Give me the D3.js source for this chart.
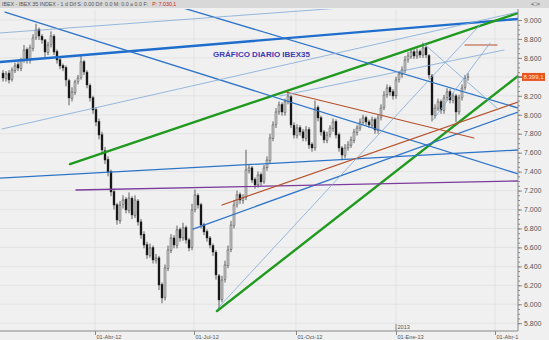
<!DOCTYPE html>
<html><head><meta charset="utf-8">
<script src="https://cdn.jsdelivr.net/npm/d3@7"></script>
<style>body{margin:0;background:#f0f0f0;}svg{display:block;font-family:"Liberation Sans",Arial,sans-serif;}</style>
</head><body><svg id="c" width="549" height="340"></svg>
<script>
// ---- data ----
const opens = [8440,8380,8440,8370,8470,8530,8490,8580,8690,8570,8700,8815,8900,8830,8790,8660,8740,8830,8670,8580,
8520,8500,8360,8170,8235,8350,8390,8560,8450,8310,8180,8055,7930,7790,7620,7530,7400,7190,7050,6880,
7050,7110,6990,7120,6940,7090,6870,6740,6630,6515,6600,6460,6490,6210,6070,6380,6570,6700,6620,6790,
6700,6810,6680,6600,7000,7150,7050,6840,6770,6700,6620,6550,6300,6050,6260,6410,6580,6830,7050,7160,
7095,7130,7410,7440,7320,7260,7370,7295,7440,7520,7750,7895,8030,8110,8025,8140,8190,7890,7780,7865,
7820,7750,7845,7690,7650,8080,7970,7820,7730,7790,7855,7930,7790,7650,7570,7650,7680,7730,7815,7860,
7920,7970,7925,7890,7950,7835,7970,8080,8210,8290,8245,8200,8370,8425,8470,8580,8615,8665,8620,8670,
8630,8710,8625,8410,7990,8070,8140,8045,8180,8245,8150,8200,8030,8180,8285,8390];
const highs = [8470,8460,8470,8500,8550,8560,8600,8736,8710,8740,8850,8960,8920,8850,8800,8770,8880,8850,8690,8610,
8540,8520,8380,8290,8370,8420,8620,8580,8470,8330,8200,8080,7960,7820,7660,7560,7420,7220,7070,7090,
7150,7130,7180,7140,7150,7110,6900,6770,6660,6640,6620,6530,6510,6230,6420,6620,6740,6730,6830,6810,
6860,6830,6700,7060,7210,7170,7070,6860,6790,6720,6640,6570,6320,6300,6460,6620,6880,7100,7200,7180,
7160,7630,7480,7460,7340,7400,7390,7470,7560,7800,7930,8070,8140,8130,8170,8240,8210,7920,7900,7890,
7850,7880,7870,7710,8150,8100,7990,7840,7820,7890,7960,7950,7810,7670,7690,7720,7770,7850,7890,7960,
8000,7990,7950,7980,7970,8000,8110,8250,8320,8310,8270,8400,8460,8510,8620,8660,8700,8690,8700,8690,
8760,8730,8640,8430,8110,8170,8160,8210,8280,8270,8230,8220,8210,8320,8420,8440];
const lows = [8350,8350,8330,8350,8440,8460,8460,8550,8540,8540,8670,8790,8790,8750,8610,8630,8710,8630,8540,8480,
8460,8300,8100,8140,8210,8320,8370,8420,8280,8140,8010,7880,7740,7580,7480,7350,7140,7000,6840,6850,
7010,6960,6960,6900,6910,6830,6690,6590,6480,6490,6430,6430,6150,6010,6040,6350,6540,6590,6590,6660,
6670,6640,6560,6570,6970,7010,6800,6730,6660,6590,6510,6260,5950,6020,6230,6380,6550,6800,7020,7060,
7060,7100,7380,7280,7220,7230,7250,7270,7410,7490,7720,7860,8000,7990,7990,8110,7860,7750,7750,7780,
7720,7720,7640,7610,7620,7930,7780,7700,7700,7760,7820,7750,7610,7520,7540,7620,7650,7700,7780,7830,
7890,7890,7860,7860,7800,7800,7940,8050,8180,8200,8160,8170,8340,8390,8440,8550,8590,8590,8590,8600,
8600,8600,8380,7930,7960,8040,8010,8010,8150,8120,8120,7920,8000,8150,8260,8360];
const closes = [8388,8430,8367,8472,8515,8493,8578,8683,8578,8705,8810,8894,8831,8789,8662,8736,8831,8662,8578,8515,
8493,8367,8177,8240,8346,8388,8557,8451,8314,8177,8050,7923,7786,7628,7522,7396,7185,7047,6889,7047,
7100,6995,7121,6942,7100,6868,6731,6625,6520,6594,6467,6488,6203,6066,6383,6573,6699,6625,6784,6699,
6805,6678,6594,6995,7153,7047,6836,6763,6699,6625,6551,6309,6045,6256,6414,6573,6836,7047,7153,7100,
7121,7417,7438,7311,7259,7364,7290,7438,7522,7755,7892,8029,8103,8029,8135,8198,7892,7786,7860,7818,
7755,7839,7681,7649,8071,7966,7818,7734,7786,7860,7923,7786,7649,7575,7649,7681,7734,7818,7860,7923,
7966,7923,7892,7945,7839,7966,8071,8208,8282,8240,8198,8367,8430,8472,8578,8620,8662,8620,8662,8631,
8705,8631,8420,7997,8071,8135,8050,8177,8240,8156,8198,8029,8177,8282,8388,8399.1];

// x-axis ticks (position in bar units) and labels
const xTickPos = [30.67, 63.67, 97.67, 131, 164];
const xTickLabels = ["01-Abr-12", "01-Jul-12", "01-Oct-12", "01-Ene-13", "01-Abr-1"];
const yearMarkPos = 131, yearLabel = "2013";

// trend lines: [barA, priceA, barB, priceB]
const trendLines = [
  {kind:"blueThick",  a:[-1, 8557],    b:[171.7, 9011]},
  {kind:"greenThick", a:[22.33, 7480], b:[171.7, 9074]},
  {kind:"greenThick", a:[71.33, 5929], b:[171.7, 8409]},
  {kind:"blue",       a:[0.67, 9084],  b:[171.7, 7375]},
  {kind:"blue",       a:[-1, 7332],    b:[171.7, 7628]},
  {kind:"blue",       a:[63.33, 6794], b:[171.7, 8029]},
  {kind:"blue",       a:[52.33, 9200], b:[171.7, 8071]},
  {kind:"purple",     a:[24.33, 7206], b:[171.7, 7301]},
  {kind:"brown",      a:[73, 7047],    b:[171.7, 8135]},
  {kind:"brown",      a:[94.33, 8240], b:[157, 7755]},
  {kind:"brown",      a:[154, 8736],   b:[164.67, 8736]},
  {kind:"thin",       a:[-1, 8863],    b:[149, 9211]},
  {kind:"thin",       a:[-0.33, 7850], b:[171.7, 9084]},
  {kind:"thin",       a:[92.33, 8198], b:[167, 8683]},
  {kind:"thin",       a:[71.67, 5960], b:[159, 8948]},
  {kind:"thin",       a:[140, 8757],   b:[164.67, 8071]},
  {kind:"thin",       a:[143.33, 7945],b:[162.33, 8757]}
];
const lastPrice = 8399.1;
const title = "GRÁFICO DIARIO IBEX35";
const headerText = "IBEX - IBEX 35 INDEX - 1 d Dif S: 0.00 Dif: 0.0 M: 0.0 \u2261 0.0 F:";
const headerPrice = "P: 7.030,1";

// ---- styles ----
const styles = {
  blueThick:{stroke:"#1f6dcc", w:2.4},
  greenThick:{stroke:"#1f9a1f", w:2.4},
  blue:{stroke:"#2d74c8", w:1.3},
  purple:{stroke:"#7b3c9e", w:1.3},
  brown:{stroke:"#b5502a", w:1.2},
  thin:{stroke:"#7fa8d6", w:0.8}
};

const W = 549, H = 340;
const plot = {left:0, right:518, top:9, bottom:331};
const svg = d3.select("#c");
const loc = d3.formatLocale({decimal:",", thousands:".", grouping:[3], currency:["","€"]});
const fmt = loc.format(",.0f");
const fmt1 = loc.format(",.1f");

const x = d3.scaleLinear().domain([0, closes.length-1]).range([3, 468]);
const y = d3.scaleLinear().domain([5800, 9000]).range([323.2, 20]);

svg.append("rect").attr("width",W).attr("height",H).attr("fill","#f0f0f0");

// header
svg.append("rect").attr("x",0).attr("y",0).attr("width",W).attr("height",8).attr("fill","#d8d8d8");
const ht = svg.append("text").attr("x",2).attr("y",6.3).attr("font-size",5.3).attr("fill","#555");
ht.append("tspan").text(headerText);
ht.append("tspan").attr("fill","#d02020").attr("dx",4).text(headerPrice);
svg.append("text").attr("x",531).attr("y",6).attr("font-size",6).attr("fill","#666").text("\u25AA\u25A1\u00D7");

// clip
svg.append("clipPath").attr("id","clip").append("rect")
  .attr("x",plot.left).attr("y",plot.top).attr("width",plot.right-plot.left).attr("height",plot.bottom-plot.top);
const g = svg.append("g").attr("clip-path","url(#clip)");

// grid
const yTicks = d3.range(5800, 9001, 200);
g.selectAll(".hg").data(yTicks).join("line")
  .attr("x1",plot.left).attr("x2",plot.right).attr("y1",d=>y(d)).attr("y2",d=>y(d))
  .attr("stroke","#dedede").attr("stroke-width",0.7);
g.selectAll(".vg").data(xTickPos).join("line")
  .attr("x1",d=>x(d)).attr("x2",d=>x(d)).attr("y1",plot.top).attr("y2",plot.bottom)
  .attr("stroke","#dedede").attr("stroke-width",0.7);

// candles
const idx = d3.range(closes.length);
g.selectAll(".wick").data(idx).join("line")
  .attr("x1",i=>x(i)).attr("x2",i=>x(i)).attr("y1",i=>y(highs[i])).attr("y2",i=>y(lows[i]))
  .attr("stroke","#3a3a3a").attr("stroke-width",0.8);
g.selectAll(".body").data(idx).join("rect")
  .attr("x",i=>x(i)-1).attr("width",2)
  .attr("y",i=>y(Math.max(opens[i],closes[i])))
  .attr("height",i=>Math.max(0.8, Math.abs(y(opens[i])-y(closes[i]))))
  .attr("fill",i=>closes[i]>=opens[i]?"#c8c8c8":"#111")
  .attr("stroke","#333").attr("stroke-width",0.4);

// trend lines
g.selectAll(".tl").data(trendLines).join("line")
  .attr("x1",d=>x(d.a[0])).attr("y1",d=>y(d.a[1]))
  .attr("x2",d=>x(d.b[0])).attr("y2",d=>y(d.b[1]))
  .attr("stroke",d=>styles[d.kind].stroke).attr("stroke-width",d=>styles[d.kind].w)
  .attr("stroke-linecap","round");

// title
svg.append("text").attr("x",213).attr("y",57).attr("font-size",8).attr("font-weight","bold")
  .attr("fill","#3a3ab4").text(title);

// right axis
const ra = svg.append("g").attr("transform",`translate(${plot.right},0)`);
ra.call(d3.axisRight(y).tickValues(d3.range(5800, 9001, 50)).tickSize(2).tickFormat(""));
ra.call(g2=>g2.select(".domain").remove());
const ra2 = svg.append("g").attr("transform",`translate(${plot.right},0)`);
ra2.call(d3.axisRight(y).tickValues(yTicks).tickSize(4).tickPadding(2)
  .tickFormat(d=>Math.abs(y(d)-y(lastPrice))<6 ? "" : fmt(d)));
ra2.select(".domain").remove();
svg.selectAll(".tick line").attr("stroke","#888");
ra2.selectAll("text").attr("font-size",7).attr("fill","#555").attr("font-family","Liberation Sans, Arial");
svg.append("line").attr("x1",plot.right).attr("x2",plot.right).attr("y1",plot.top).attr("y2",plot.bottom)
  .attr("stroke","#888").attr("stroke-width",1);

// bottom axis
svg.append("line").attr("x1",0).attr("x2",plot.right).attr("y1",plot.bottom).attr("y2",plot.bottom)
  .attr("stroke","#888").attr("stroke-width",1);
const ba = svg.append("g").attr("transform",`translate(0,${plot.bottom})`);
ba.call(d3.axisBottom(x).tickValues(xTickPos).tickSize(4).tickFormat((d,i)=>xTickLabels[i]));
ba.select(".domain").remove();
ba.selectAll(".tick line").attr("stroke","#888");
ba.selectAll("text").attr("font-size",5.6).attr("fill","#555").attr("text-anchor","start")
  .attr("dx",1).attr("y",4).attr("dy","0.71em").attr("font-family","Liberation Sans, Arial");
svg.append("line").attr("x1",x(yearMarkPos)).attr("x2",x(yearMarkPos)).attr("y1",plot.bottom-7).attr("y2",plot.bottom)
  .attr("stroke","#888");
svg.append("text").attr("x",x(yearMarkPos)+1.5).attr("y",plot.bottom-2).attr("font-size",5.6).attr("fill","#555").text(yearLabel);

// last price marker
const ly = y(lastPrice);
svg.append("rect").attr("x",522).attr("y",ly-4).attr("width",23).attr("height",8).attr("fill","#e8541e");
svg.append("text").attr("x",523.5).attr("y",ly+2.3).attr("font-size",6).attr("fill","#ffe6d8").text(fmt1(lastPrice));
svg.append("line").attr("x1",plot.right).attr("x2",plot.right+4).attr("y1",ly).attr("y2",ly).attr("stroke","#555");
</script></body></html>
